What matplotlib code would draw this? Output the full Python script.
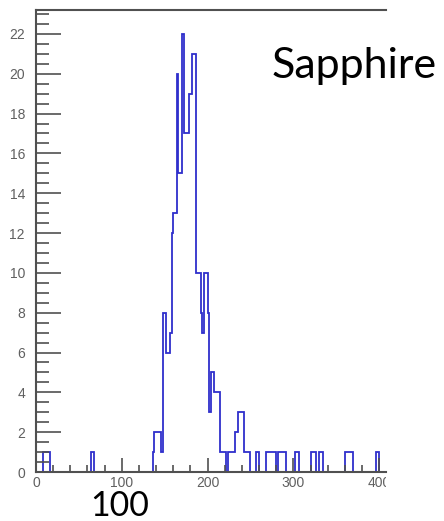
"""Hit-count histogram for the sapphire sample, ROOT-style frame."""

import matplotlib
matplotlib.use("Agg")
import matplotlib.pyplot as plt
from matplotlib.ticker import MultipleLocator
from matplotlib.transforms import Bbox, TransformedBbox

# Step outline of the histogram: bin edges and the count held in each step
edges = [0, 8, 16, 64, 68, 136, 138, 146, 148, 152, 156, 158, 160, 164, 166,
         170, 172, 178, 182, 186, 192, 194, 196, 200, 202, 204, 208, 214, 222,
         224, 232, 236, 242, 250, 256, 260, 268, 280, 282, 292, 302, 306, 320,
         326, 330, 334, 360, 370, 396, 400, 408]
counts = [0, 1, 0, 1, 0, 1, 2, 1, 8, 6, 7, 12, 13, 20, 15,
          22, 17, 19, 21, 10, 8, 7, 10, 8, 3, 5, 4, 1, 0,
          1, 2, 3, 1, 0, 1, 0, 1, 0, 1, 0, 1, 0, 1,
          0, 1, 0, 1, 0, 1, 0]

x_ticks = [0, 100, 200, 300, 400]
y_ticks = list(range(0, 23, 2))

W, H = 444, 521
fig = plt.figure(figsize=(W / 100, H / 100), dpi=100)
ax = fig.add_axes([36 / W, (H - 472) / H, 350 / W, 462 / H])

ax.stairs(counts, edges, color="#2f2fcc", linewidth=1.3)

ax.set_xlim(0, 408)
ax.set_ylim(0, 23.2)
ax.set_xticks(x_ticks)
ax.set_yticks(y_ticks)
ax.xaxis.set_minor_locator(MultipleLocator(20))
ax.yaxis.set_minor_locator(MultipleLocator(0.5))

axis_col = "#505050"
ax.tick_params(axis="both", which="both", direction="in", colors=axis_col,
               labelcolor="#606060", labelsize=10, width=1.2)
ax.tick_params(axis="y", which="major", length=18, pad=8)
ax.tick_params(axis="y", which="minor", length=9.5)
ax.tick_params(axis="x", which="major", length=10, pad=3)
ax.tick_params(axis="x", which="minor", length=5)
for lbl in ax.get_xticklabels() + ax.get_yticklabels():
    lbl.set_family("Liberation Sans")

ax.spines["right"].set_visible(False)
for side in ("left", "bottom", "top"):
    ax.spines[side].set_color(axis_col)
    ax.spines[side].set_linewidth(1.5)

# the frame is cut off on the right, so is the last x label
clip = TransformedBbox(Bbox([[0, 0], [386 / W, 1]]), fig.transFigure)
for lbl in ax.get_xticklabels():
    lbl.set_clip_box(clip)
    lbl.set_clip_on(True)

fig.text(272 / W, 1 - 78 / H, "Sapphire", family="Lato", fontsize=31,
         color="black", ha="left", va="baseline")
fig.text(90 / W, 1 - 516 / H, "100", family="Lato", fontsize=24.5,
         color="black", ha="left", va="baseline")

fig.savefig("out.png", dpi=100)
